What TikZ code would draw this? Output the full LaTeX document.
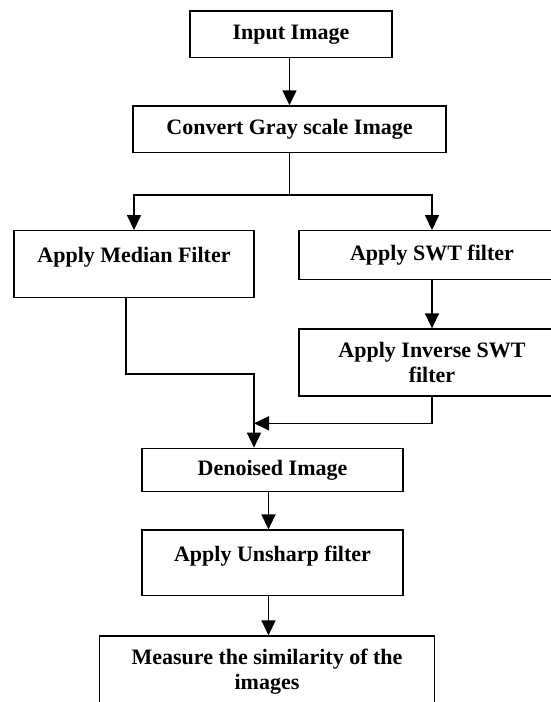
\documentclass[tikz,border=0pt]{standalone}
\usepackage{fontspec}
\usepackage{tikz}
\usetikzlibrary{arrows.meta,positioning}
\newfontfamily\boxfont{Liberation Serif}
\tikzset{
  stepbox/.style={draw=black, line width=1.3pt, inner sep=0pt, align=center,
    font=\boxfont\bfseries\fontsize{22}{25}\selectfont},
  wire/.style={draw=black, line width=1.5pt},
  arr/.style={wire, -{Triangle[length=15pt,width=14pt]}},
}

\begin{document}
\begin{tikzpicture}[x=1pt,y=-1pt]
\useasboundingbox (0,0) rectangle (551,702);
\clip (0,0) rectangle (551,702);
\fill[white] (0,0) rectangle (551,702);
% boxes
\node[stepbox, minimum width=202pt, minimum height=46.7pt] (input) at (291,34.3) {Input Image};
\node[stepbox, minimum width=313pt, minimum height=46.7pt] (gray) at (289.5,129.3) {Convert Gray scale Image};
\node[stepbox, minimum width=240pt, text height=31.5pt, text depth=35.5pt, anchor=base] (median) at (134,262.2) {Apply Median Filter};
\node[stepbox, minimum width=266pt, minimum height=48.6pt] (swt) at (432,255) {Apply SWT filter};
\node[stepbox, minimum width=266pt, minimum height=67pt] (inv) at (432,362.5) {Apply Inverse SWT\\filter};
\node[stepbox, minimum width=261pt, minimum height=43.4pt] (denoise) at (272.5,470) {Denoised Image};
\node[stepbox, minimum width=261pt, text height=31.6pt, text depth=33.7pt, anchor=base] (unsharp) at (272.5,561.6) {Apply Unsharp filter};
\node[stepbox, minimum width=335.5pt, minimum height=72pt] (measure) at (267,672) {Measure the similarity of the\\images};
% joints
\coordinate (split) at (289.5,195);
\coordinate (mbend) at (254,374);
\coordinate (join) at (254,423.3);
% connectors
\draw[arr] (input.south -| gray.north) -- (gray.north);
\draw[wire] (gray.south) -- (split);
\draw[arr] (split) -| (median.north);
\draw[arr] (split) -| (swt.north);
\draw[arr] (swt.south) -- (inv.north);
\draw[arr] ([xshift=-8pt]median.south) |- (mbend) -- (mbend |- denoise.north);
\draw[arr] (inv.south) |- (join);
\draw[arr] ([xshift=-4pt]denoise.south) -- ([xshift=-4pt]unsharp.north);
\draw[arr] ([xshift=-4pt]unsharp.south) -- ([xshift=-4pt]unsharp.south |- measure.north);
\end{tikzpicture}
\end{document}
